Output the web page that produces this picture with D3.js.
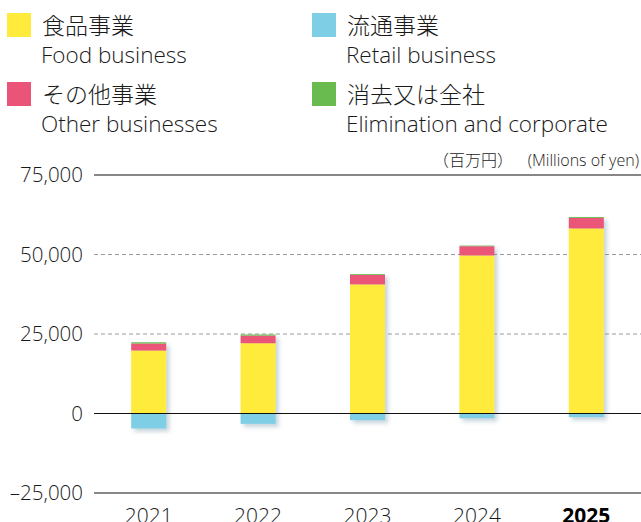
<!DOCTYPE html>
<html>
<head>
<meta charset="utf-8">
<style>
  body { margin: 0; background: #fff; }
  svg text { font-family: "Open Sans", "Liberation Sans", sans-serif; font-weight: 300; fill: #1a1a1a; }
  .jp { font-family: "Noto Sans CJK JP", sans-serif; font-weight: 300; }
</style>
</head>
<body>
<svg id="chart" width="641" height="522" viewBox="0 0 641 522" xmlns="http://www.w3.org/2000/svg"></svg>
<script src="https://d3js.org/d3.v7.min.js"></script>
<script>

const years = ["2021", "2022", "2023", "2024", "2025"];
const food = [19800, 22100, 40600, 49700, 58200];
const retail = [-4700, -3250, -2100, -1500, -1150];
const other = [2200, 2400, 3000, 2900, 3300];
const elimination = [400, 350, 250, 200, 300];
const yTicks = [75000, 50000, 25000, 0, -25000];

const legendItems = [
  { jp: "食品事業", en: "Food business", color: "#ffeb3b" },
  { jp: "流通事業", en: "Retail business", color: "#7ecfe6" },
  { jp: "その他事業", en: "Other businesses", color: "#ea5478" },
  { jp: "消去又は全社", en: "Elimination and corporate", color: "#69bb4f" }
];

const svg = d3.select("#chart");
const left = 94, right = 641;

const y = d3.scaleLinear()
  .domain([-25000, 75000])
  .range([493, 175]);

const x = d3.scaleBand()
  .domain(years)
  .range([left, right])
  .paddingInner(0.68)
  .paddingOuter(0.34);

// drop shadow for the bars
const defs = svg.append("defs");
const filter = defs.append("filter")
  .attr("id", "shadow")
  .attr("x", "-20%").attr("y", "-20%")
  .attr("width", "160%").attr("height", "160%");
filter.append("feDropShadow")
  .attr("dx", 3).attr("dy", 3)
  .attr("stdDeviation", 2)
  .attr("flood-color", "#5a7f96")
  .attr("flood-opacity", 0.35);

// Legend
legendItems.forEach((d, i) => {
  const col = i % 2, row = Math.floor(i / 2);
  const lx = col === 0 ? 7 : 312;
  const ly = row === 0 ? 13 : 82;
  svg.append("rect")
    .attr("x", lx).attr("y", ly)
    .attr("width", 24).attr("height", 24)
    .attr("fill", d.color);
  svg.append("text")
    .attr("class", "jp")
    .attr("x", lx + 35).attr("y", ly + 21)
    .attr("font-size", "23px")
    .text(d.jp);
  svg.append("text")
    .attr("x", lx + 34).attr("y", ly + 50)
    .attr("font-size", "22.5px")
    .text(d.en);
});

// Unit labels
svg.append("text")
  .attr("class", "jp")
  .attr("x", 513).attr("y", 166)
  .attr("text-anchor", "end")
  .attr("font-size", "16px")
  .text("（百万円）");
svg.append("text")
  .attr("x", 639).attr("y", 166)
  .attr("text-anchor", "end")
  .attr("font-size", "16px")
  .text("(Millions of yen)");

// Gridlines
yTicks.forEach(t => {
  const dashed = t === 50000 || t === 25000;
  svg.append("line")
    .attr("x1", left).attr("x2", right)
    .attr("y1", y(t)).attr("y2", y(t))
    .attr("stroke", dashed ? "#9a9a9a" : "#111")
    .attr("stroke-width", dashed ? 1 : 1.2)
    .attr("stroke-dasharray", dashed ? "4,3" : null);
  svg.append("text")
    .attr("x", 83).attr("y", y(t) + 7)
    .attr("text-anchor", "end")
    .attr("font-size", "20.5px")
    .text(t < 0 ? "–" + d3.format(",")(-t) : d3.format(",")(t));
});

// Bars
const bars = svg.append("g").attr("filter", "url(#shadow)");
years.forEach((yr, i) => {
  const bx = x(yr), bw = x.bandwidth();
  const segs = [
    { from: 0, to: retail[i], color: legendItems[1].color },
    { from: 0, to: food[i], color: legendItems[0].color },
    { from: food[i], to: food[i] + other[i], color: legendItems[2].color },
    { from: food[i] + other[i], to: food[i] + other[i] + elimination[i], color: legendItems[3].color }
  ];
  const g = bars.append("g");
  segs.forEach(s => {
    g.append("rect")
      .attr("x", bx)
      .attr("y", y(Math.max(s.from, s.to)))
      .attr("width", bw)
      .attr("height", Math.abs(y(s.from) - y(s.to)))
      .attr("fill", s.color);
  });
});

// redraw zero line above the bars
svg.append("line")
  .attr("x1", left).attr("x2", right)
  .attr("y1", y(0)).attr("y2", y(0))
  .attr("stroke", "#111")
  .attr("stroke-width", 1.2);

// Year labels
years.forEach((yr, i) => {
  const last = i === years.length - 1;
  svg.append("text")
    .attr("x", x(yr) + x.bandwidth() / 2)
    .attr("y", 523)
    .attr("text-anchor", "middle")
    .attr("font-size", "21px")
    .style("font-weight", last ? "700" : "300")
    .style("fill", last ? "#000" : "#1a1a1a")
    .text(yr);
});
</script>
</body>
</html>
